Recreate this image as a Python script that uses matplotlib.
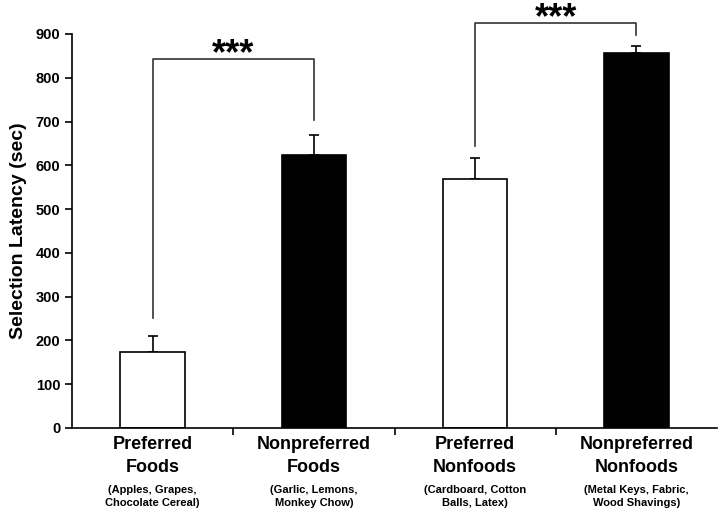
import matplotlib
matplotlib.use("Agg")
from matplotlib import pyplot as plt

plt.rcParams['font.family'] = ['Liberation Sans', 'DejaVu Sans']
plt.rcParams['font.weight'] = 'bold'

# data
categories = ['Preferred\nFoods', 'Nonpreferred\nFoods', 'Preferred\nNonfoods', 'Nonpreferred\nNonfoods']
examples = ['(Apples, Grapes,\nChocolate Cereal)', '(Garlic, Lemons,\nMonkey Chow)',
            '(Cardboard, Cotton\nBalls, Latex)', '(Metal Keys, Fabric,\nWood Shavings)']
means = [173, 623, 568, 857]
errs = [36, 47, 48, 16]
colors = ['white', 'black', 'white', 'black']

# significance brackets: (left x, right x, left bottom, top, right bottom)
brackets = [(0, 1, 251, 844, 703), (2, 3, 644, 926, 898)]

fig = plt.figure(figsize=(7.2, 5.08), dpi=100)
ax = fig.add_axes([0.1, 0.1575, 0.896, 0.7756])

xs = list(range(len(means)))
ax.bar(xs, means, width=0.4, color=colors, edgecolor='black', lw=1.2, zorder=2)
ax.errorbar(xs, means, yerr=[[0]*len(errs), errs], fmt='none', ecolor='black',
            elinewidth=1.2, capsize=3.5, capthick=1.2, zorder=1)

for x1, x2, yl, yt, yr in brackets:
    ax.plot([x1, x1, x2, x2], [yl, yt, yt, yr], color='#333333', lw=1.2, clip_on=False)
    ax.text((x1 + x2) / 2, yt - 13, '***', ha='center', va='baseline',
            fontsize=26, fontweight='bold', clip_on=False)

ax.set_xlim(-0.5, 3.5)
ax.set_ylim(0, 900)
ax.set_yticks(range(0, 901, 100))
ax.set_xticks([0.5, 1.5, 2.5])
ax.set_xticklabels([])
ax.tick_params(axis='both', direction='out', length=5, width=1.2, labelsize=10.5)
for lab in ax.get_yticklabels():
    lab.set_fontweight('bold')
ax.spines['top'].set_visible(False)
ax.spines['right'].set_visible(False)
ax.spines['left'].set_linewidth(1.2)
ax.spines['bottom'].set_linewidth(1.2)
ax.set_ylabel('Selection Latency (sec)', fontsize=14, fontweight='bold', labelpad=6)

for i, (c, e) in enumerate(zip(categories, examples)):
    ax.text(i, -18, c, ha='center', va='top', fontsize=13, fontweight='bold',
            linespacing=1.45)
    ax.text(i, -130, e, ha='center', va='top', fontsize=8, fontweight='bold',
            linespacing=1.35)

fig.savefig('out.png', dpi=100)
